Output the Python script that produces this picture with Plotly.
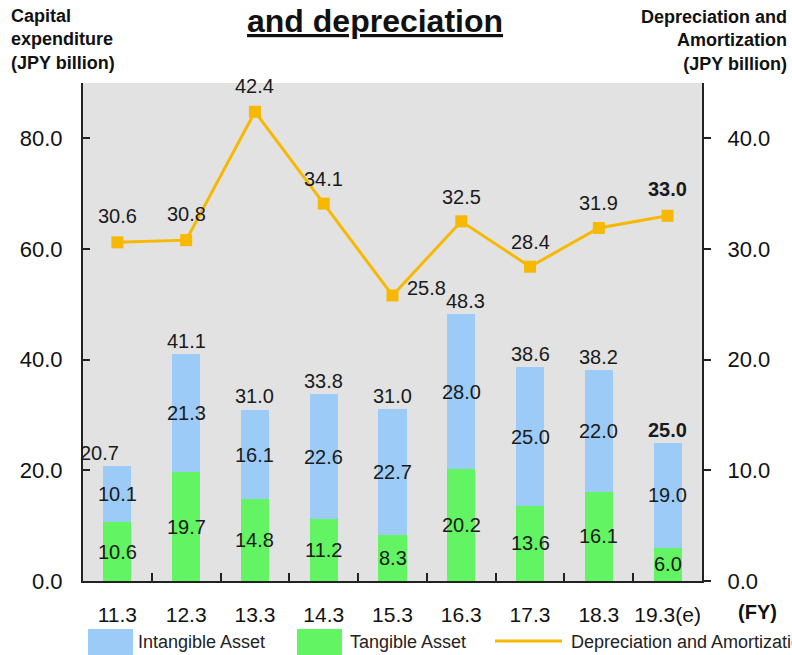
import plotly.graph_objects as go

# ---- data ----
categories = ["11.3", "12.3", "13.3", "14.3", "15.3", "16.3", "17.3", "18.3", "19.3(e)"]
tangible = [10.6, 19.7, 14.8, 11.2, 8.3, 20.2, 13.6, 16.1, 6.0]
intangible = [10.1, 21.3, 16.1, 22.6, 22.7, 28.0, 25.0, 22.0, 19.0]
totals = [20.7, 41.1, 31.0, 33.8, 31.0, 48.3, 38.6, 38.2, 25.0]
depreciation = [30.6, 30.8, 42.4, 34.1, 25.8, 32.5, 28.4, 31.9, 33.0]

# ---- style ----
W, H = 792, 655
L, R, T, B = 83, 90, 83, 74
PW, PH = W - L - R, H - T - B
FONT = "Liberation Sans, Arial, sans-serif"
C_BLUE = "#9CCBF7"
C_GREEN = "#62F462"
C_LINE = "#F6B800"
C_TEXT = "#1a1a1a"
BG = "#E2E2E2"
AX = "#222222"


def px2x(px):
    return (px - L) / PW


def px2y(py):
    return (H - B - py) / PH


fig = go.Figure()
fig.add_trace(go.Bar(x=categories, y=tangible, name="Tangible Asset",
                     marker=dict(color=C_GREEN, line=dict(width=0)), showlegend=False))
fig.add_trace(go.Bar(x=categories, y=intangible, name="Intangible Asset",
                     marker=dict(color=C_BLUE, line=dict(width=0)), showlegend=False))
fig.add_trace(go.Scatter(x=categories, y=depreciation, yaxis="y2", mode="lines+markers",
                         name="Depreciation and Amortization",
                         line=dict(color=C_LINE, width=3),
                         marker=dict(symbol="square", size=12, color=C_LINE),
                         showlegend=False))

annotations = []
last = len(categories) - 1
lab_font = dict(family=FONT, size=20, color=C_TEXT)
bold_font = dict(family=FONT, size=20, color=C_TEXT, weight="bold")

# segment labels (midpoints of each stacked segment); x is the category index
for i, c in enumerate(categories):
    annotations.append(dict(x=i, y=tangible[i] / 2, xref="x", yref="y", text=f"{tangible[i]:.1f}",
                            showarrow=False, font=lab_font))
    annotations.append(dict(x=i, y=tangible[i] + intangible[i] / 2, xref="x", yref="y",
                            text=f"{intangible[i]:.1f}", showarrow=False, font=lab_font))

# total labels
total_xshift = [-18, 0, 0, 0, 0, 4, 0, 0, 0]
for i, c in enumerate(categories):
    annotations.append(dict(x=i, y=totals[i], xref="x", yref="y", text=f"{totals[i]:.1f}",
                            showarrow=False, yanchor="middle", yshift=13, xshift=total_xshift[i],
                            font=bold_font if i == last else lab_font))

# line labels
line_xshift = [0, 0, 0, 0, 34, 0, 0, 0, 0]
line_yshift = [26, 26, 26, 25, 7, 24, 25, 25, 27]
for i, c in enumerate(categories):
    annotations.append(dict(x=i, y=depreciation[i], xref="x", yref="y2", text=f"{depreciation[i]:.1f}",
                            showarrow=False, yanchor="middle", yshift=line_yshift[i],
                            xshift=line_xshift[i],
                            font=bold_font if i == last else lab_font))

# titles
annotations.append(dict(x=px2x(375), y=px2y(21), xref="paper", yref="paper",
                        text="<u>and depreciation</u>", showarrow=False,
                        xanchor="center", yanchor="middle",
                        font=dict(family=FONT, size=32, color="#111", weight="bold")))
annotations.append(dict(x=px2x(9), y=px2y(4), xref="paper", yref="paper",
                        text="Capital<br>expenditure<br>(JPY billion)", showarrow=False,
                        xanchor="left", yanchor="top", align="left",
                        font=dict(family=FONT, size=18, color="#111", weight="bold")))
annotations.append(dict(x=px2x(789), y=px2y(5), xref="paper", yref="paper",
                        text="Depreciation and<br>Amortization<br>(JPY billion)", showarrow=False,
                        xanchor="right", yanchor="top", align="right",
                        font=dict(family=FONT, size=18, color="#111", weight="bold")))
annotations.append(dict(x=px2x(757), y=px2y(612), xref="paper", yref="paper",
                        text="(FY)", showarrow=False, xanchor="center", yanchor="middle",
                        font=dict(family=FONT, size=20, color="#111", weight="bold")))

# legend (custom)
shapes = [
    dict(type="rect", xref="paper", yref="paper", x0=px2x(88), x1=px2x(133),
         y0=px2y(655), y1=px2y(629), fillcolor=C_BLUE, line=dict(width=0)),
    dict(type="rect", xref="paper", yref="paper", x0=px2x(297), x1=px2x(342),
         y0=px2y(655), y1=px2y(629), fillcolor=C_GREEN, line=dict(width=0)),
    dict(type="line", xref="paper", yref="paper", x0=px2x(495), x1=px2x(562),
         y0=px2y(641), y1=px2y(641), line=dict(color=C_LINE, width=3)),
]
leg_font = dict(family=FONT, size=18, color="#222")
for px, txt in [(136, "Intangible Asset"), (348, "Tangible Asset"), (569, "Depreciation and Amortization")]:
    annotations.append(dict(x=px2x(px), y=px2y(642), xref="paper", yref="paper", text=txt,
                            showarrow=False, xanchor="left", yanchor="middle", font=leg_font))

fig.update_layout(
    width=W, height=H,
    margin=dict(l=L, r=R, t=T, b=B, pad=0),
    paper_bgcolor="white", plot_bgcolor=BG,
    barmode="stack", bargap=0.59,
    font=dict(family=FONT, color="#111"),
    showlegend=False,
    xaxis=dict(type="category", range=[-0.5, len(categories) - 0.5], tickangle=0,
               showline=True, linecolor=AX, linewidth=2,
               ticks="inside", tickson="boundaries", ticklen=8, tickcolor=AX, tickwidth=2,
               tickfont=dict(family=FONT, size=21, color="#111"), ticklabelstandoff=14,
               showgrid=False, zeroline=False),
    yaxis=dict(range=[0, 90], tickvals=[0, 20, 40, 60, 80], tickformat=".1f",
               showline=True, linecolor=AX, linewidth=2, ticks="inside", ticklen=7,
               tickcolor=AX, tickwidth=2, tickfont=dict(family=FONT, size=22, color="#111"),
               ticklabelstandoff=14, showgrid=False, zeroline=False),
    yaxis2=dict(range=[0, 45], tickvals=[0, 10, 20, 30, 40], tickformat=".1f",
                overlaying="y", side="right", showline=True, linecolor=AX, linewidth=2,
                ticks="outside", ticklen=7, tickcolor=AX, tickwidth=2,
                tickfont=dict(family=FONT, size=22, color="#111"), ticklabelstandoff=12,
                showgrid=False, zeroline=False),
    annotations=annotations,
    shapes=shapes,
)

fig.write_html("out.html")
